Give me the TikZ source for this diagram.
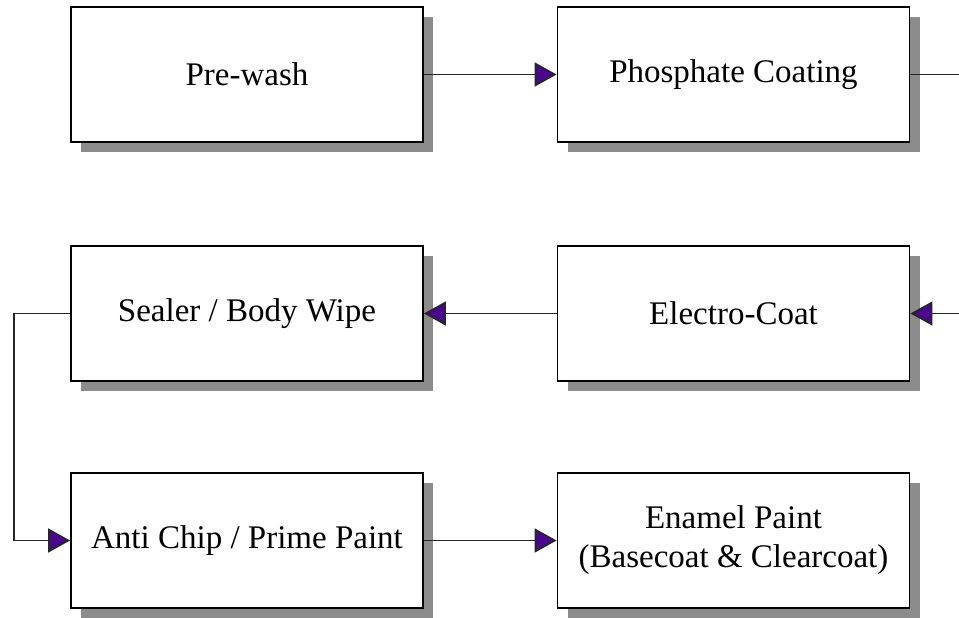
\documentclass[tikz,border=0pt]{standalone}
\usepackage{fontspec}
\setmainfont{Liberation Serif}
\usetikzlibrary{arrows.meta,shadows}
\definecolor{tipfill}{RGB}{75,5,145}
\definecolor{shadowgray}{RGB}{140,140,140}
\tikzset{
  stepbox/.style={draw=black, line width=1.8pt, fill=white, minimum width=352pt, minimum height=135pt,
    inner sep=0pt, align=center, font=\fontsize{33}{39}\selectfont,
    general shadow={fill=shadowgray, shadow xshift=10pt, shadow yshift=-10pt}},
  conn/.style={line width=1.8pt, draw=black!85},
  arr/.style={conn, -{Triangle[length=22pt,width=24pt,fill=tipfill,line width=1.8pt]}}
}
\begin{document}
\begin{tikzpicture}[x=1pt,y=-1pt]
\useasboundingbox (0,0) rectangle (959,618);
\node[stepbox] (pre) at (247,74.5) {Pre-wash};
\node[stepbox] (phos) at (733.5,74.5) {Phosphate Coating};
\node[stepbox] (seal) at (247,313.5) {Sealer / Body Wipe};
\node[stepbox] (elec) at (733.5,313.5) {Electro-Coat};
\node[stepbox] (anti) at (247,540.5) {Anti Chip / Prime Paint};
\node[stepbox] (enam) at (733.5,540.5) {Enamel Paint\\(Basecoat \& Clearcoat)};
\coordinate (r1) at (959,74.5);
\coordinate (r2) at (959,313.5);
\coordinate (l1) at (14,313.5);
\coordinate (l2) at (14,540.5);
\draw[arr] (pre.east) -- (phos.west);
\draw[conn] (phos.east) -- (r1);
\draw[arr] (r2) -- (elec.east);
\draw[arr] (elec.west) -- (seal.east);
\draw[arr] (seal.west) -- (l1) -- (l2) -- (anti.west);
\draw[arr] (anti.east) -- (enam.west);
\end{tikzpicture}
\end{document}
